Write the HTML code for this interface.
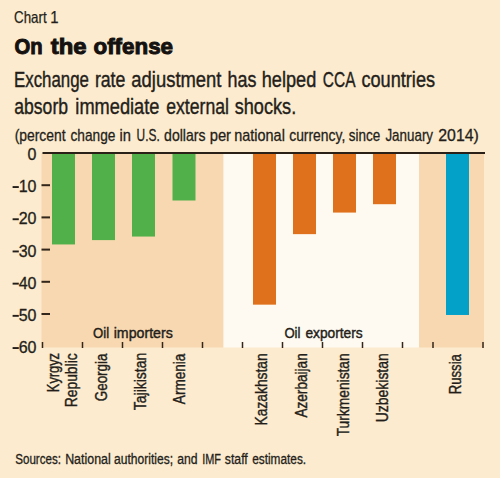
<!DOCTYPE html><html><head><meta charset="utf-8"><style>html,body{margin:0;padding:0;background:#fcebce;}svg{display:block}text{font-family:"Liberation Sans",sans-serif}</style></head><body>
<svg width="500" height="478" viewBox="0 0 500 478">
<rect x="0" y="0" width="500" height="478" fill="#fcebce"/>
<rect x="41.5" y="153.0" width="182.0" height="194.5" fill="#f8d8b0"/>
<rect x="223.5" y="153.0" width="195.5" height="194.5" fill="#fefaf1"/>
<rect x="419" y="153.0" width="65" height="194.5" fill="#f8d8b0"/>
<rect x="52" y="153.0" width="23" height="91.45" fill="#52b04a"/>
<rect x="92" y="153.0" width="23" height="87.10" fill="#52b04a"/>
<rect x="132" y="153.0" width="23" height="83.56" fill="#52b04a"/>
<rect x="172.5" y="153.0" width="23.0" height="47.50" fill="#52b04a"/>
<rect x="253" y="153.0" width="23" height="151.66" fill="#df711c"/>
<rect x="293" y="153.0" width="23" height="81.14" fill="#df711c"/>
<rect x="333" y="153.0" width="23" height="59.57" fill="#df711c"/>
<rect x="373" y="153.0" width="23" height="51.20" fill="#df711c"/>
<rect x="446" y="153.0" width="23" height="161.97" fill="#03a0c8"/>
<rect x="42.5" y="152" width="442.5" height="2" fill="#2b2018"/>
<rect x="41.5" y="184.20" width="8.5" height="2" fill="#33261a"/>
<rect x="41.5" y="216.40" width="8.5" height="2" fill="#33261a"/>
<rect x="41.5" y="248.60" width="8.5" height="2" fill="#33261a"/>
<rect x="41.5" y="280.80" width="8.5" height="2" fill="#33261a"/>
<rect x="41.5" y="313.00" width="8.5" height="2" fill="#33261a"/>
<text x="36.5" y="160.00" font-size="16" text-anchor="end" style="fill:#241e1a;stroke:#241e1a;stroke-width:0.3px">0</text>
<text x="36.5" y="192.20" font-size="16" text-anchor="end" style="fill:#241e1a;stroke:#241e1a;stroke-width:0.3px">10</text>
<rect x="12.6" y="186.10" width="6.2" height="1.9" fill="#241e1a"/>
<text x="36.5" y="224.40" font-size="16" text-anchor="end" style="fill:#241e1a;stroke:#241e1a;stroke-width:0.3px">20</text>
<rect x="12.6" y="218.30" width="6.2" height="1.9" fill="#241e1a"/>
<text x="36.5" y="256.60" font-size="16" text-anchor="end" style="fill:#241e1a;stroke:#241e1a;stroke-width:0.3px">30</text>
<rect x="12.6" y="250.50" width="6.2" height="1.9" fill="#241e1a"/>
<text x="36.5" y="288.80" font-size="16" text-anchor="end" style="fill:#241e1a;stroke:#241e1a;stroke-width:0.3px">40</text>
<rect x="12.6" y="282.70" width="6.2" height="1.9" fill="#241e1a"/>
<text x="36.5" y="321.00" font-size="16" text-anchor="end" style="fill:#241e1a;stroke:#241e1a;stroke-width:0.3px">50</text>
<rect x="12.6" y="314.90" width="6.2" height="1.9" fill="#241e1a"/>
<text x="36.5" y="353.20" font-size="16" text-anchor="end" style="fill:#241e1a;stroke:#241e1a;stroke-width:0.3px">60</text>
<rect x="12.6" y="347.10" width="6.2" height="1.9" fill="#241e1a"/>
<rect x="41.75" y="342" width="1.5" height="6" fill="#33261a"/>
<rect x="81.75" y="342" width="1.5" height="6" fill="#33261a"/>
<rect x="121.75" y="342" width="1.5" height="6" fill="#33261a"/>
<rect x="161.75" y="342" width="1.5" height="6" fill="#33261a"/>
<rect x="201.75" y="342" width="1.5" height="6" fill="#33261a"/>
<rect x="241.75" y="342" width="1.5" height="6" fill="#33261a"/>
<rect x="281.75" y="342" width="1.5" height="6" fill="#33261a"/>
<rect x="321.75" y="342" width="1.5" height="6" fill="#33261a"/>
<rect x="361.75" y="342" width="1.5" height="6" fill="#33261a"/>
<rect x="401.75" y="342" width="1.5" height="6" fill="#33261a"/>
<rect x="432.25" y="342" width="1.5" height="6" fill="#33261a"/>
<rect x="482.25" y="342" width="1.5" height="6" fill="#33261a"/>
<text x="14.02" y="22.8" font-size="16.5" font-weight="400" textLength="32.65" lengthAdjust="spacingAndGlyphs" style="fill:#241e1a;stroke:#241e1a;stroke-width:0.25px">Chart</text>
<text x="50.28" y="22.8" font-size="16.5" font-weight="400" textLength="8.33" lengthAdjust="spacingAndGlyphs" style="fill:#241e1a;stroke:#241e1a;stroke-width:0.25px">1</text>
<text x="14.40" y="54.0" font-size="22.5" font-weight="700" textLength="28.15" lengthAdjust="spacingAndGlyphs" style="fill:#141110;stroke:#141110;stroke-width:1.0px">On</text>
<text x="50.74" y="54.0" font-size="22.5" font-weight="700" textLength="35.76" lengthAdjust="spacingAndGlyphs" style="fill:#141110;stroke:#141110;stroke-width:1.0px">the</text>
<text x="93.51" y="54.0" font-size="22.5" font-weight="700" textLength="79.56" lengthAdjust="spacingAndGlyphs" style="fill:#141110;stroke:#141110;stroke-width:1.0px">offense</text>
<text x="14.05" y="87.0" font-size="21.2" font-weight="400" textLength="74.91" lengthAdjust="spacingAndGlyphs" style="fill:#241e1a;stroke:#241e1a;stroke-width:0.4px">Exchange</text>
<text x="94.89" y="87.0" font-size="21.2" font-weight="400" textLength="30.52" lengthAdjust="spacingAndGlyphs" style="fill:#241e1a;stroke:#241e1a;stroke-width:0.4px">rate</text>
<text x="131.37" y="87.0" font-size="21.2" font-weight="400" textLength="90.12" lengthAdjust="spacingAndGlyphs" style="fill:#241e1a;stroke:#241e1a;stroke-width:0.4px">adjustment</text>
<text x="227.58" y="87.0" font-size="21.2" font-weight="400" textLength="28.86" lengthAdjust="spacingAndGlyphs" style="fill:#241e1a;stroke:#241e1a;stroke-width:0.4px">has</text>
<text x="261.76" y="87.0" font-size="21.2" font-weight="400" textLength="54.48" lengthAdjust="spacingAndGlyphs" style="fill:#241e1a;stroke:#241e1a;stroke-width:0.4px">helped</text>
<text x="322.82" y="87.0" font-size="21.2" font-weight="400" textLength="32.63" lengthAdjust="spacingAndGlyphs" style="fill:#241e1a;stroke:#241e1a;stroke-width:0.4px">CCA</text>
<text x="361.39" y="87.0" font-size="21.2" font-weight="400" textLength="73.70" lengthAdjust="spacingAndGlyphs" style="fill:#241e1a;stroke:#241e1a;stroke-width:0.4px">countries</text>
<text x="14.31" y="113.8" font-size="21.2" font-weight="400" textLength="53.71" lengthAdjust="spacingAndGlyphs" style="fill:#241e1a;stroke:#241e1a;stroke-width:0.4px">absorb</text>
<text x="75.35" y="113.8" font-size="21.2" font-weight="400" textLength="84.05" lengthAdjust="spacingAndGlyphs" style="fill:#241e1a;stroke:#241e1a;stroke-width:0.4px">immediate</text>
<text x="166.21" y="113.8" font-size="21.2" font-weight="400" textLength="62.71" lengthAdjust="spacingAndGlyphs" style="fill:#241e1a;stroke:#241e1a;stroke-width:0.4px">external</text>
<text x="234.70" y="113.8" font-size="21.2" font-weight="400" textLength="61.55" lengthAdjust="spacingAndGlyphs" style="fill:#241e1a;stroke:#241e1a;stroke-width:0.4px">shocks.</text>
<text x="14.68" y="140.6" font-size="16.2" font-weight="400" textLength="50.91" lengthAdjust="spacingAndGlyphs" style="fill:#241e1a;stroke:#241e1a;stroke-width:0.3px">(percent</text>
<text x="70.50" y="140.6" font-size="16.2" font-weight="400" textLength="44.89" lengthAdjust="spacingAndGlyphs" style="fill:#241e1a;stroke:#241e1a;stroke-width:0.3px">change</text>
<text x="119.60" y="140.6" font-size="16.2" font-weight="400" textLength="11.46" lengthAdjust="spacingAndGlyphs" style="fill:#241e1a;stroke:#241e1a;stroke-width:0.3px">in</text>
<text x="136.60" y="140.6" font-size="16.2" font-weight="400" textLength="23.16" lengthAdjust="spacingAndGlyphs" style="fill:#241e1a;stroke:#241e1a;stroke-width:0.3px">U.S.</text>
<text x="164.09" y="140.6" font-size="16.2" font-weight="400" textLength="41.37" lengthAdjust="spacingAndGlyphs" style="fill:#241e1a;stroke:#241e1a;stroke-width:0.3px">dollars</text>
<text x="209.70" y="140.6" font-size="16.2" font-weight="400" textLength="21.33" lengthAdjust="spacingAndGlyphs" style="fill:#241e1a;stroke:#241e1a;stroke-width:0.3px">per</text>
<text x="234.22" y="140.6" font-size="16.2" font-weight="400" textLength="50.63" lengthAdjust="spacingAndGlyphs" style="fill:#241e1a;stroke:#241e1a;stroke-width:0.3px">national</text>
<text x="289.19" y="140.6" font-size="16.2" font-weight="400" textLength="56.07" lengthAdjust="spacingAndGlyphs" style="fill:#241e1a;stroke:#241e1a;stroke-width:0.3px">currency,</text>
<text x="348.82" y="140.6" font-size="16.2" font-weight="400" textLength="31.41" lengthAdjust="spacingAndGlyphs" style="fill:#241e1a;stroke:#241e1a;stroke-width:0.3px">since</text>
<text x="385.42" y="140.6" font-size="16.2" font-weight="400" textLength="47.63" lengthAdjust="spacingAndGlyphs" style="fill:#241e1a;stroke:#241e1a;stroke-width:0.3px">January</text>
<text x="438.27" y="140.6" font-size="16.2" font-weight="400" textLength="40.51" lengthAdjust="spacingAndGlyphs" style="fill:#241e1a;stroke:#241e1a;stroke-width:0.3px">2014)</text>
<text x="93.01" y="337.6" font-size="15.4" font-weight="400" textLength="16.05" lengthAdjust="spacingAndGlyphs" style="fill:#241e1a;stroke:#241e1a;stroke-width:0.45px">Oil</text>
<text x="113.73" y="337.6" font-size="15.4" font-weight="400" textLength="59.01" lengthAdjust="spacingAndGlyphs" style="fill:#241e1a;stroke:#241e1a;stroke-width:0.45px">importers</text>
<text x="284.41" y="337.6" font-size="15.4" font-weight="400" textLength="16.05" lengthAdjust="spacingAndGlyphs" style="fill:#241e1a;stroke:#241e1a;stroke-width:0.45px">Oil</text>
<text x="305.38" y="337.6" font-size="15.4" font-weight="400" textLength="57.36" lengthAdjust="spacingAndGlyphs" style="fill:#241e1a;stroke:#241e1a;stroke-width:0.45px">exporters</text>
<text x="15.21" y="464.2" font-size="14" font-weight="400" textLength="45.79" lengthAdjust="spacingAndGlyphs" style="fill:#241e1a;stroke:#241e1a;stroke-width:0.3px">Sources:</text>
<text x="65.13" y="464.2" font-size="14" font-weight="400" textLength="45.63" lengthAdjust="spacingAndGlyphs" style="fill:#241e1a;stroke:#241e1a;stroke-width:0.3px">National</text>
<text x="113.99" y="464.2" font-size="14" font-weight="400" textLength="59.05" lengthAdjust="spacingAndGlyphs" style="fill:#241e1a;stroke:#241e1a;stroke-width:0.3px">authorities;</text>
<text x="177.18" y="464.2" font-size="14" font-weight="400" textLength="20.35" lengthAdjust="spacingAndGlyphs" style="fill:#241e1a;stroke:#241e1a;stroke-width:0.3px">and</text>
<text x="202.26" y="464.2" font-size="14" font-weight="400" textLength="18.79" lengthAdjust="spacingAndGlyphs" style="fill:#241e1a;stroke:#241e1a;stroke-width:0.3px">IMF</text>
<text x="224.80" y="464.2" font-size="14" font-weight="400" textLength="22.94" lengthAdjust="spacingAndGlyphs" style="fill:#241e1a;stroke:#241e1a;stroke-width:0.3px">staff</text>
<text x="252.20" y="464.2" font-size="14" font-weight="400" textLength="53.98" lengthAdjust="spacingAndGlyphs" style="fill:#241e1a;stroke:#241e1a;stroke-width:0.3px">estimates.</text>
<text transform="translate(59,391.40) rotate(-90)" x="-0.76" y="0" font-size="16" textLength="39.15" lengthAdjust="spacingAndGlyphs" style="fill:#241e1a;stroke:#241e1a;stroke-width:0.4px">Kyrgyz</text>
<text transform="translate(76.8,406.50) rotate(-90)" x="-0.84" y="0" font-size="16" textLength="54.05" lengthAdjust="spacingAndGlyphs" style="fill:#241e1a;stroke:#241e1a;stroke-width:0.4px">Republic</text>
<text transform="translate(106.5,400.80) rotate(-90)" x="-0.39" y="0" font-size="16" textLength="47.59" lengthAdjust="spacingAndGlyphs" style="fill:#241e1a;stroke:#241e1a;stroke-width:0.4px">Georgia</text>
<text transform="translate(146,410.00) rotate(-90)" x="-0.19" y="0" font-size="16" textLength="57.38" lengthAdjust="spacingAndGlyphs" style="fill:#241e1a;stroke:#241e1a;stroke-width:0.4px">Tajikistan</text>
<text transform="translate(185.3,404.40) rotate(-90)" x="0.24" y="0" font-size="16" textLength="50.48" lengthAdjust="spacingAndGlyphs" style="fill:#241e1a;stroke:#241e1a;stroke-width:0.4px">Armenia</text>
<text transform="translate(267,424.60) rotate(-90)" x="-0.84" y="0" font-size="16" textLength="72.15" lengthAdjust="spacingAndGlyphs" style="fill:#241e1a;stroke:#241e1a;stroke-width:0.4px">Kazakhstan</text>
<text transform="translate(307,417.80) rotate(-90)" x="0.24" y="0" font-size="16" textLength="64.26" lengthAdjust="spacingAndGlyphs" style="fill:#241e1a;stroke:#241e1a;stroke-width:0.4px">Azerbaijan</text>
<text transform="translate(349.3,436.10) rotate(-90)" x="-0.19" y="0" font-size="16" textLength="82.97" lengthAdjust="spacingAndGlyphs" style="fill:#241e1a;stroke:#241e1a;stroke-width:0.4px">Turkmenistan</text>
<text transform="translate(388,421.40) rotate(-90)" x="-0.85" y="0" font-size="16" textLength="69.01" lengthAdjust="spacingAndGlyphs" style="fill:#241e1a;stroke:#241e1a;stroke-width:0.4px">Uzbekistan</text>
<text transform="translate(461,393.50) rotate(-90)" x="-0.79" y="0" font-size="16" textLength="40.17" lengthAdjust="spacingAndGlyphs" style="fill:#241e1a;stroke:#241e1a;stroke-width:0.4px">Russia</text>
</svg></body></html>
